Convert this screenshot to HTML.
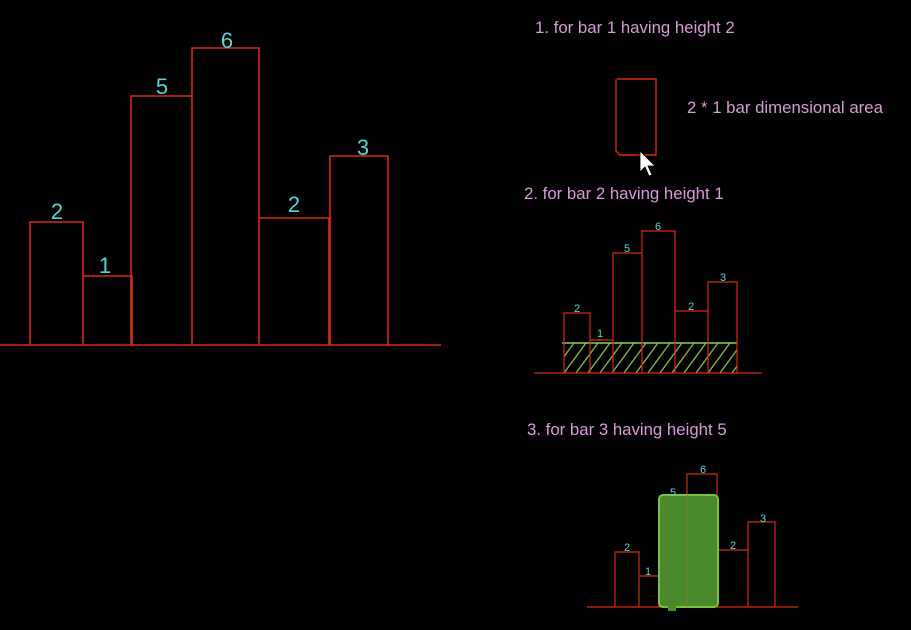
<!DOCTYPE html>
<html><head><style>
html,body{margin:0;padding:0;background:#000;width:911px;height:630px;overflow:hidden}
text{font-family:"Liberation Sans",sans-serif}
</style></head><body>
<svg width="911" height="630" viewBox="0 0 911 630" xmlns="http://www.w3.org/2000/svg">
<rect width="911" height="630" fill="#000"/>
<defs>
<pattern id="h" patternUnits="userSpaceOnUse" width="12" height="30" patternTransform="translate(564,343)">
<line x1="0" y1="30" x2="22" y2="0" stroke="#7cc040" stroke-width="1.3"/>
<line x1="-12" y1="30" x2="10" y2="0" stroke="#7cc040" stroke-width="1.3"/>
</pattern>
</defs>
<g fill="none" stroke="#d42c0c" stroke-width="1.6">
<line x1="0" y1="345" x2="441" y2="345"/>
<path d="M30 345V222H83V345M83 276H132V345M131 345V96H192V345M192 345V48H259V345M259 218H329V345M330 345V156H388V345"/>
</g>
<g fill="#4ed8d8" font-size="22" text-anchor="middle">
<text x="57" y="219">2</text><text x="105" y="273">1</text><text x="162" y="94">5</text>
<text x="227" y="48">6</text><text x="294" y="212">2</text><text x="363" y="155">3</text>
</g>
<g fill="#d89ad8" font-size="16.8">
<text x="535" y="33">1. for bar 1 having height 2</text>
<text x="687" y="113">2 * 1 bar dimensional area</text>
<text x="524" y="199">2. for bar 2 having height 1</text>
<text x="527" y="435">3. for bar 3 having height 5</text>
</g>
<path d="M617 79H656V155H620L616 151V79" fill="none" stroke="#d42c0c" stroke-width="1.4"/>
<path d="M640 151V172L645 167L649 176L652 175L648 166L655 166Z" fill="#fff" stroke="#000" stroke-width="0.8"/>
<!-- chart 2 -->
<rect x="564" y="343" width="173" height="30" fill="url(#h)"/>
<line x1="562" y1="343" x2="737" y2="343" stroke="#8ccf50" stroke-width="1.5"/>
<g fill="none" stroke="#d42c0c" stroke-width="1.2">
<line x1="534" y1="373" x2="762" y2="373"/>
<path d="M564 373V313H590V373M590 340H613V373M613 373V253H642V373M642 373V231H675V373M675 311H708V373M708 373V282H737V373"/>
</g>
<g fill="#4ed8d8" font-size="11" text-anchor="middle">
<text x="577" y="312">2</text><text x="600" y="337">1</text><text x="627" y="252">5</text>
<text x="658" y="230">6</text><text x="691" y="310">2</text><text x="723" y="281">3</text>
</g>
<!-- chart 3 -->
<g fill="none" stroke="#d42c0c" stroke-width="1.2">
<line x1="587" y1="607" x2="798" y2="607"/>
<path d="M615 607V552H639V607M639 576H659V607M687 495V474H717V495M717 550H748V607M748 607V522H775V607"/>
</g>
<rect x="659" y="495" width="59" height="112" rx="4" fill="#4a8a2c" stroke="#7cc040" stroke-width="2"/>
<rect x="668" y="605" width="8" height="6" fill="#4a8a2c"/>
<line x1="687" y1="495" x2="687" y2="607" stroke="#8a7a30" stroke-width="1"/>
<g fill="#4ed8d8" font-size="11" text-anchor="middle">
<text x="627" y="551">2</text><text x="648" y="575">1</text><text x="673" y="496">5</text>
<text x="703" y="473">6</text><text x="733" y="549">2</text><text x="763" y="522">3</text>
</g>
</svg>
</body></html>
